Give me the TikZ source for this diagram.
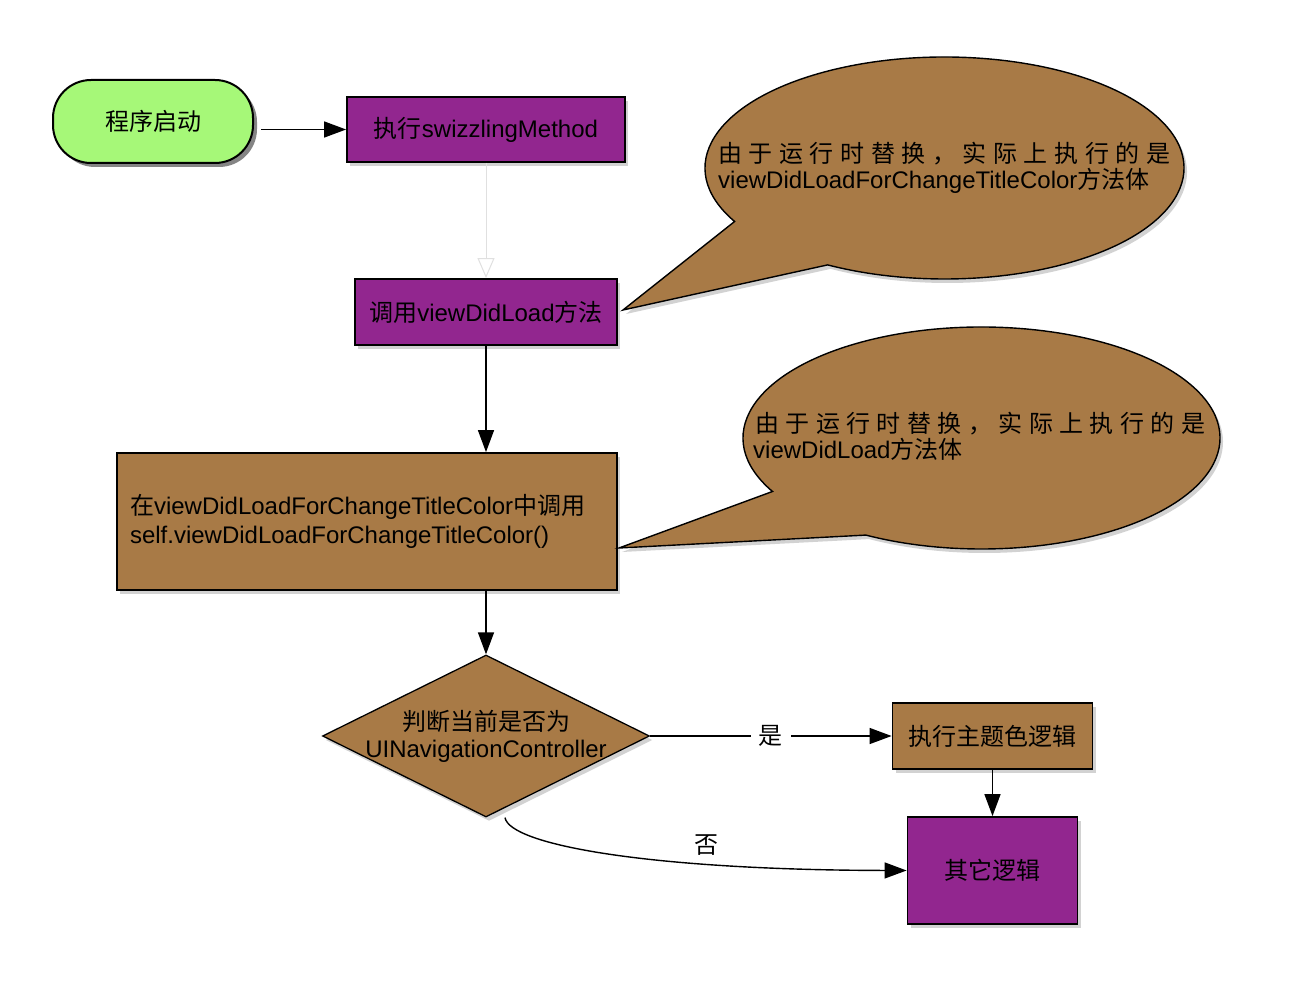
\documentclass[tikz,border=0pt]{standalone}
\usepackage{fontspec}
\setmainfont{Liberation Sans}
\newfontfamily\cjk{Noto Sans CJK SC}
\newcommand\zh[1]{{\cjk #1}}
\usetikzlibrary{arrows.meta,shapes.geometric,shadows,calc}
\definecolor{cpurple}{RGB}{146,38,143}
\definecolor{cbrown}{RGB}{168,122,70}
\definecolor{cgreen}{RGB}{166,248,120}
\begin{document}
\begin{tikzpicture}[x=1pt,y=1pt,
  font=\fontsize{24}{27}\selectfont,
  shd/.style={drop shadow={shadow xshift=3pt,shadow yshift=-4pt,opacity=0.25,fill=black!70}},
  pbox/.style={draw=black,line width=1.8pt,fill=cpurple,shd,inner sep=0pt},
  bbox/.style={draw=black,line width=1.8pt,fill=cbrown,shd,inner sep=0pt},
  arr/.style={line width=1.4pt,-{Triangle[length=22pt,width=16pt]}},
  callout/.style={draw=black,line width=1.4pt,fill=cbrown,shd},
]
\useasboundingbox (0,0) rectangle (1304,-984);

% start stadium
\node[draw=black,line width=2pt,fill=cgreen,rounded corners=38pt,
  minimum width=200pt,minimum height=83pt,inner sep=0pt,
  drop shadow={shadow xshift=4pt,shadow yshift=-4pt,opacity=0.6,fill=black!80}]
  (start) at (153,-121.5) {\zh{程序启动}};

\node[pbox,minimum width=278pt,minimum height=65pt] (b1) at (486,-129.5) {\zh{执行}swizzlingMethod};
\node[pbox,minimum width=262pt,minimum height=66pt] (b2) at (486,-312) {\zh{调用}viewDidLoad\zh{方法}};
\node[bbox,minimum width=500pt,minimum height=137pt,text width=474pt,inner xsep=13pt,
  align=left,font=\fontsize{24}{29}\selectfont] (b3) at (367,-521.5)
  {\zh{在}viewDidLoadForChangeTitleColor\zh{中调用}\\self.viewDidLoadForChangeTitleColor()};
\node[diamond,draw=black,line width=1.3pt,fill=cbrown,shd,inner sep=0pt,
  minimum width=327pt,minimum height=162pt] (dia) at (486,-736) {};
\node[align=center,inner sep=0pt] (diatext) at (dia.center) {\zh{判断当前是否为}\\UINavigationController};
\node[bbox,minimum width=200pt,minimum height=66pt] (theme) at (992.5,-736) {\zh{执行主题色逻辑}};
\node[pbox,minimum width=170pt,minimum height=107pt] (other) at (992.5,-870.5) {\zh{其它逻辑}};

% callouts
\coordinate (c1) at (944.5,-168);
\coordinate (tip1) at (623,-310);
\draw[callout] (tip1) -- ($(c1)+(208.8:239.5pt and 111pt)$)
  arc[start angle=208.8,end angle=-119.2,x radius=239.5pt,y radius=111pt] -- cycle;
\node[anchor=base west,inner sep=0pt] (t1a) at (718,-163)
  {\makebox[452pt][s]{\cjk 由\hfill 于\hfill 运\hfill 行\hfill 时\hfill 替\hfill 换\hfill ，\hfill 实\hfill 际\hfill 上\hfill 执\hfill 行\hfill 的\hfill 是}};
\node[anchor=base west,inner sep=0pt] (t1b) at (718,-189) {viewDidLoadForChangeTitleColor\zh{方法体}};

\coordinate (c2) at (981.5,-438);
\coordinate (tip2) at (619,-548);
\draw[callout] (tip2) -- ($(c2)+(208.8:238.5pt and 111pt)$)
  arc[start angle=208.8,end angle=-119,x radius=238.5pt,y radius=111pt] -- cycle;
\node[anchor=base west,inner sep=0pt] (t2a) at (755,-432)
  {\makebox[450pt][s]{\cjk 由\hfill 于\hfill 运\hfill 行\hfill 时\hfill 替\hfill 换\hfill ，\hfill 实\hfill 际\hfill 上\hfill 执\hfill 行\hfill 的\hfill 是}};
\node[anchor=base west,inner sep=0pt] (t2b) at (753,-458) {viewDidLoad\zh{方法体}};

% connectors
\draw[arr,shorten <=7pt] (start.east |- b1.west) -- (b1.west);
\draw[line width=1pt,black!12,-{Triangle[open,length=20pt,width=17pt,fill=white]}] (b1.south) -- (b2.north);
\draw[arr] (b2.south) -- (b2.south |- b3.north);
\draw[arr] (dia.north |- b3.south) -- (dia.north);
\draw[arr] (dia.east) -- node[fill=white,inner xsep=8pt,inner ysep=2pt] (yes) {\zh{是}} (theme.west);
\draw[arr] (theme.south) -- (other.north);
\coordinate (nostart) at ($(dia.south)+(19,0)$);
\draw[arr] (nostart) .. controls (510,-845) and (650,-870) .. (other.west);
\node (no) at (706,-845) {\zh{否}};
\end{tikzpicture}
\end{document}
